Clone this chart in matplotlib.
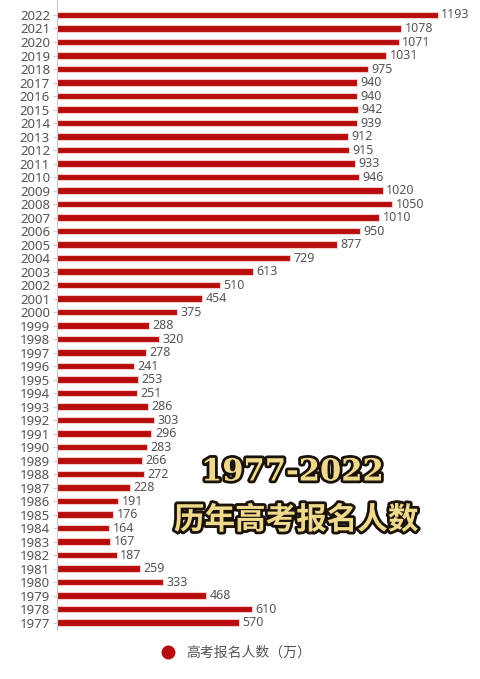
import matplotlib
matplotlib.use('Agg')
import matplotlib.pyplot as plt
import matplotlib.patheffects as pe
from matplotlib.lines import Line2D
import numpy as np

plt.rcParams['font.family'] = ['Noto Sans', 'Noto Sans CJK SC', 'DejaVu Sans']

# datos: años y número de inscritos (万)
years = list(range(1977, 2023))
values = [570, 610, 468, 333, 259, 187, 167, 164, 176, 191,
          228, 272, 266, 283, 296, 303, 286, 251, 253, 241,
          278, 320, 288, 375, 454, 510, 613, 729, 877, 950,
          1010, 1050, 1020, 946, 933, 915, 912, 939, 942, 940,
          940, 975, 1031, 1071, 1078, 1193]
legend_label = '高考报名人数（万）'
title1 = '1977-2022'
title2 = '历年高考报名人数'

bar_color = '#B80C0C'
grey = '#555555'

fig = plt.figure(figsize=(4.8, 6.79), dpi=100)
ax = fig.add_axes([57/480, 49/679, (470-57)/480, 630/679])

y = np.arange(len(years))
bars = ax.barh(y, values, height=0.48, color=bar_color,
               edgecolor='#F6C9C9', linewidth=0.8)
ax.bar_label(bars, labels=[str(v) for v in values], padding=2.5,
             fontsize=9, color=grey)

ax.set_yticks(y)
ax.set_yticklabels([str(a) for a in years], fontsize=9.5, color=grey)
ax.set_ylim(-0.54, len(years) - 1 + 1.11)
ax.set_xlim(0, 1294)
ax.set_xticks([])

for s in ['top', 'right', 'bottom']:
    ax.spines[s].set_visible(False)
ax.spines['left'].set_color('#CCCCCC')
ax.spines['left'].set_linewidth(0.8)
ax.tick_params(axis='y', length=3, width=0.8, color='#CCCCCC', pad=2)

# títulos superpuestos
efecto = [pe.withStroke(linewidth=4, foreground='#1A1208')]
fig.text(292/480, 1 - 472/679, title1, ha='center', va='center',
         fontsize=22, fontweight='bold', family='DejaVu Serif',
         color='#EFD98C', path_effects=efecto)
fig.text(296/480, 1 - 520/679, title2, ha='center', va='center',
         fontsize=22, fontweight='black', family='Noto Sans CJK SC',
         color='#EFD98C', path_effects=efecto)

# leyenda
handle = Line2D([], [], marker='o', linestyle='none', markersize=9,
                markerfacecolor=bar_color, markeredgecolor=bar_color)
fig.legend([handle], [legend_label], loc='center', bbox_to_anchor=(0.485, 1 - 653/679),
           frameon=False, handletextpad=0.3, prop={'size': 10, 'family': ['Noto Sans CJK SC']},
           labelcolor=grey)

fig.savefig('out.png', dpi=100)
